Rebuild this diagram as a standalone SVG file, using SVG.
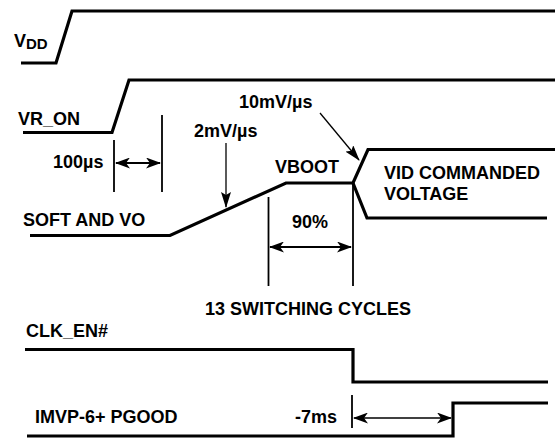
<svg xmlns="http://www.w3.org/2000/svg" width="555" height="438" viewBox="0 0 555 438">
<style>
text{font-family:"Liberation Sans",Arial,sans-serif;font-weight:bold;font-size:18px;fill:#000}
.sig{fill:none;stroke:#000;stroke-width:3.2;stroke-linejoin:miter}
.mk{fill:none;stroke:#000;stroke-width:1.8}
.arr2{fill:none;stroke:#000;stroke-width:2;marker-start:url(#big);marker-end:url(#big)}
.arr1{fill:none;stroke:#000;stroke-width:1.3;marker-end:url(#thin)}
</style>
<defs>
<marker id="big" markerUnits="userSpaceOnUse" viewBox="0 0 15 11" markerWidth="15" markerHeight="11" refX="14" refY="5.5" orient="auto-start-reverse"><path d="M0,0 L15,5.5 L0,11 L4,5.5 Z" fill="#000"/></marker>
<marker id="thin" markerUnits="userSpaceOnUse" viewBox="0 0 16 10" markerWidth="16" markerHeight="10" refX="15" refY="5" orient="auto"><path d="M0,0 L16,5 L0,10 L3,5 Z" fill="#000"/></marker>
</defs>
<rect width="555" height="438" fill="#fff"/>
<g id="vdd">
<text x="14" y="47" font-size="19">V<tspan font-size="15" dy="1.5">DD</tspan></text>
<polyline class="sig" points="21,63 56,63 72,11 555,11"/>
</g>
<g id="vr_on">
<text x="18" y="125">VR_ON</text>
<polyline class="sig" points="23,132.5 112,132.5 129,80 555,80"/>
</g>
<g id="soft_vo">
<text x="23" y="226">SOFT AND VO</text>
<polyline class="sig" points="30,235.5 170,235.5 286,183 353,183 368,149.5 555,149.5"/>
<polyline class="sig" points="353,183 367,218 547,218"/>
<text x="275" y="173">VBOOT</text>
<text x="384" y="179">VID COMMANDED</text>
<text x="384" y="200">VOLTAGE</text>
</g>
<g id="clk_en">
<text x="26" y="337">CLK_EN#</text>
<polyline class="sig" points="25,349.5 353,349.5 353,382 548,382"/>
</g>
<g id="pgood">
<text x="35" y="423">IMVP-6+ PGOOD</text>
<polyline class="sig" points="27,436 453,436 453,403 548,403"/>
</g>
<g id="connectors">
<line class="mk" x1="114" y1="140" x2="114" y2="192"/>
<line class="mk" x1="162" y1="115" x2="162" y2="192"/>
<line class="arr2" x1="116" y1="163" x2="160" y2="163"/>
<text x="53" y="168">100µs</text>
<line class="arr1" x1="226" y1="143" x2="226" y2="207"/>
<text x="194" y="137">2mV/µs</text>
<line class="arr1" x1="320" y1="113" x2="359" y2="160"/>
<text x="239" y="108">10mV/µs</text>
<line class="mk" x1="268.5" y1="197" x2="268.5" y2="286"/>
<line class="mk" x1="353" y1="183" x2="353" y2="286"/>
<line class="arr2" x1="270" y1="247" x2="351" y2="247"/>
<text x="292" y="228">90%</text>
<text x="205" y="315">13 SWITCHING CYCLES</text>
<line class="mk" x1="352" y1="395" x2="352" y2="428"/>
<line class="arr2" style="stroke-width:1.5" x1="354" y1="418" x2="451" y2="418"/>
<text x="295" y="423">-7ms</text>
</g>
</svg>
